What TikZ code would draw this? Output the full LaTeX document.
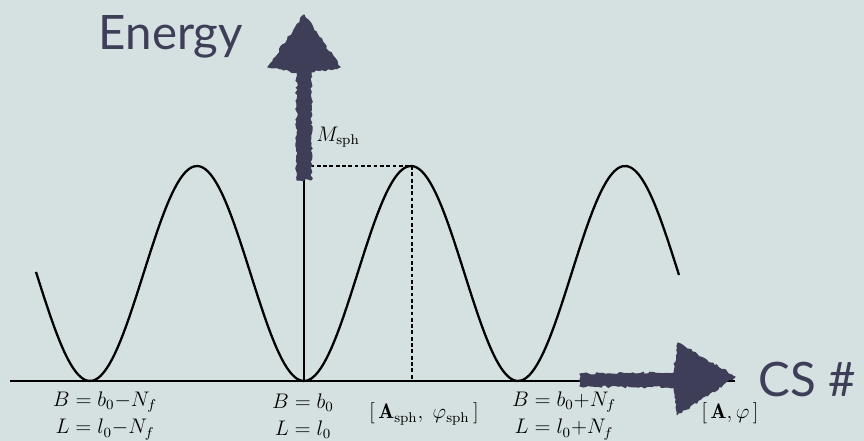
\documentclass[tikz,border=0pt]{standalone}
\usepackage{fontspec}
\newfontfamily\slidefont{Lato}
\usepackage{amsmath}
\usetikzlibrary{positioning, decorations.pathmorphing}
\usepackage{xcolor}
\definecolor{slidebg}{RGB}{213,225,225}
\definecolor{chalkblue}{RGB}{62,62,88}

\begin{document}
\pgfmathsetseed{7}
\begin{tikzpicture}[
  x=0.2mm, y=0.2mm,
  lbl/.style={inner sep=0pt, font=\large, align=center},
  title/.style={inner sep=0pt, text=chalkblue, font=\slidefont\fontsize{27}{30}\selectfont},
  axis/.style={line width=1pt},
  guide/.style={line width=0.6pt, dash pattern=on 2.2pt off 1.4pt},
  chalk/.style={fill=chalkblue, draw=chalkblue, line width=0.6pt, decorate,
    decoration={random steps, segment length=1.5pt, amplitude=0.7pt}}
]
\useasboundingbox[fill=slidebg] (0,0) rectangle (864,441);

\coordinate (origin) at (304,60);
\coordinate (xstart) at (10,60);
\coordinate (xend) at (735,60);
\coordinate (ytop) at (304,426);
\coordinate (msph) at (304,275);
\coordinate (peak) at (412,275);
\coordinate (sph) at (412,60);

% axes
\draw[axis] (xstart) -- (xend);
\draw[line width=0.6pt] (origin) -- (ytop);

% potential
\draw[line width=1.3pt] plot[smooth, samples=160, domain=36:679]
  (\x, {167.5-107.5*cos(1.68224*(\x-90))});

\draw[guide] (msph) -- (peak);
\draw[guide] (peak) -- (sph);

% chalk arrows
\fill[chalk] (297,261) -- (297,369) -- (268,374) -- (304,426) -- (340,374)
  -- (311,369) -- (311,261) -- cycle;
\fill[chalk] (580,55) -- (674,54) -- (677,26) -- (735,64) -- (678,98)
  -- (674,68) -- (580,67) -- cycle;

\node[title, anchor=base] (energy) at (171,391) {Energy};
\node[title, anchor=base] (cs) at (807,44) {CS \#};

\node[lbl, anchor=west] (mlabel) at (316,304) {$M_{\mathrm{sph}}$};

\node[lbl] (left) at (105,25) {$B=b_0{-}N_f$\\[1.5pt]$L=l_0{-}N_f$};
\node[lbl] (mid) at (303,25) {$B=b_0$\\[1.5pt]$L=l_0$};
\node[lbl] (right) at (564,25) {$B=b_0{+}N_f$\\[1.5pt]$L=l_0{+}N_f$};
\node[lbl] (asph) at (424,27) {$[\,\mathbf{A}_{\mathrm{sph}},\;\varphi_{\mathrm{sph}}\,]$};
\node[lbl] (aphi) at (730,28) {$[\,\mathbf{A},\varphi\,]$};
\end{tikzpicture}
\end{document}
